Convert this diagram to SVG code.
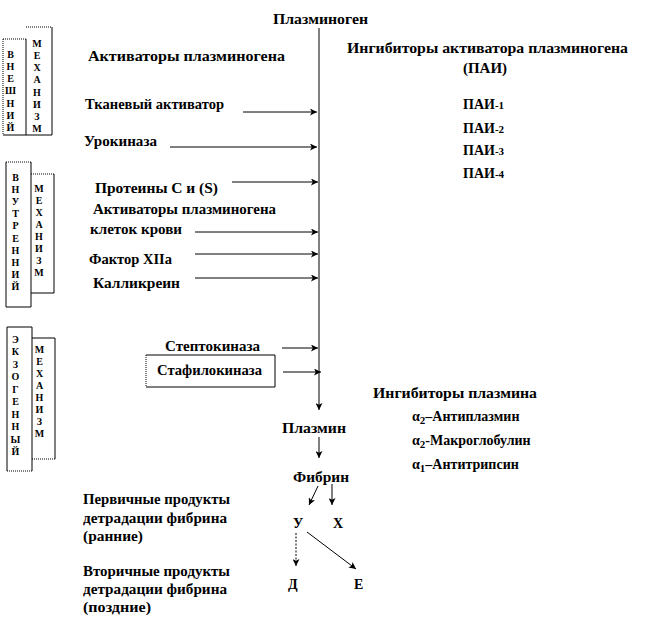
<svg xmlns="http://www.w3.org/2000/svg" width="668" height="630" viewBox="0 0 668 630">
<defs>
<style>
text{font-family:"Liberation Serif","DejaVu Serif","Times New Roman",serif;font-weight:bold;fill:#000}
.t{font-size:14px}
.s{font-size:11px}
.v{font-size:10px;text-anchor:middle}
.ln{stroke:#000;stroke-width:1;fill:none}
.dot{stroke:#000;stroke-width:1;fill:none;stroke-dasharray:1 1}
.ar{stroke:#000;stroke-width:1;fill:none;marker-end:url(#ah)}
</style>
<marker id="ah" viewBox="0 0 8 8" refX="8" refY="4" markerWidth="7" markerHeight="7" markerUnits="userSpaceOnUse" orient="auto">
<path d="M0,0 L8,4 L0,8 L2,4 z" fill="#000"/>
</marker>
</defs>
<rect width="668" height="630" fill="#fff"/>
<g font-family="Liberation Serif, DejaVu Serif, serif">

<g id="box-external">
<path class="ln" d="M3,135 H52 V27 M26,39 V135"/>
<path class="dot" d="M3,39 H26 M3,39 V135 M26,27 H52"/>
<text class="v"><tspan x="10.5" y="58">В</tspan><tspan x="10.5" y="70">Н</tspan><tspan x="10.5" y="82">Е</tspan><tspan x="10.5" y="94">Ш</tspan><tspan x="10.5" y="107">Н</tspan><tspan x="10.5" y="119">И</tspan><tspan x="10.5" y="131">Й</tspan></text>
<text class="v"><tspan x="37" y="47">М</tspan><tspan x="37" y="59">Е</tspan><tspan x="37" y="71">Х</tspan><tspan x="37" y="83">А</tspan><tspan x="37" y="96">Н</tspan><tspan x="37" y="108">И</tspan><tspan x="37" y="120">З</tspan><tspan x="37" y="132">М</tspan></text>
</g>

<g id="box-internal">
<path class="ln" d="M6,162 V307 H31 V162 M31,293 H54 V174"/>
<path class="dot" d="M6,162 H31 M31,174 H54"/>
<text class="v"><tspan x="15.5" y="181">В</tspan><tspan x="15.5" y="193">Н</tspan><tspan x="15.5" y="205">У</tspan><tspan x="15.5" y="217">Т</tspan><tspan x="15.5" y="229">Р</tspan><tspan x="15.5" y="242">Е</tspan><tspan x="15.5" y="254">Н</tspan><tspan x="15.5" y="266">Н</tspan><tspan x="15.5" y="278">И</tspan><tspan x="15.5" y="290">Й</tspan></text>
<text class="v"><tspan x="39" y="192">М</tspan><tspan x="39" y="204">Е</tspan><tspan x="39" y="216">Х</tspan><tspan x="39" y="228">А</tspan><tspan x="39" y="240">Н</tspan><tspan x="39" y="252">И</tspan><tspan x="39" y="264">З</tspan><tspan x="39" y="276">М</tspan></text>
</g>

<g id="box-exogenous">
<path class="ln" d="M7,471 V327 H32 V471 M32,338 H55 V459"/>
<path class="dot" d="M7,471 H32 M32,459 H55"/>
<text class="v"><tspan x="15.5" y="343">Э</tspan><tspan x="15.5" y="355">К</tspan><tspan x="15.5" y="368">З</tspan><tspan x="15.5" y="380">О</tspan><tspan x="15.5" y="393">Г</tspan><tspan x="15.5" y="405">Е</tspan><tspan x="15.5" y="418">Н</tspan><tspan x="15.5" y="430">Н</tspan><tspan x="15.5" y="443">Ы</tspan><tspan x="15.5" y="455">Й</tspan></text>
<text class="v"><tspan x="39.5" y="353">М</tspan><tspan x="39.5" y="365">Е</tspan><tspan x="39.5" y="377">Х</tspan><tspan x="39.5" y="389">А</tspan><tspan x="39.5" y="401">Н</tspan><tspan x="39.5" y="413">И</tspan><tspan x="39.5" y="425">З</tspan><tspan x="39.5" y="437">М</tspan></text>
</g>

<g id="plasminogen"><text class="t" x="273" y="24" textLength="95" lengthAdjust="spacingAndGlyphs">Плазминоген</text></g>
<g id="activators-title"><text class="t" x="88" y="61" textLength="197" lengthAdjust="spacingAndGlyphs">Активаторы  плазминогена</text></g>
<g id="tissue-activator"><text class="t" x="85" y="109" textLength="139" lengthAdjust="spacingAndGlyphs">Тканевый активатор</text></g>
<g id="urokinase"><text class="t" x="84" y="146" textLength="73" lengthAdjust="spacingAndGlyphs">Урокиназа</text></g>
<g id="proteins"><text class="t" x="95" y="193" textLength="123" lengthAdjust="spacingAndGlyphs">Протеины С и (S)</text></g>
<g id="blood-activators">
<text class="t" x="93" y="214" textLength="183" lengthAdjust="spacingAndGlyphs">Активаторы плазминогена</text>
<text class="t" x="90" y="234" textLength="92" lengthAdjust="spacingAndGlyphs">клеток крови</text>
</g>
<g id="factor-xiia"><text class="t" x="89" y="264" textLength="83" lengthAdjust="spacingAndGlyphs">Фактор XIIa</text></g>
<g id="kallikrein"><text class="t" x="93" y="288" textLength="87" lengthAdjust="spacingAndGlyphs">Калликреин</text></g>
<g id="streptokinase"><text class="t" x="165" y="351" textLength="95" lengthAdjust="spacingAndGlyphs">Стептокиназа</text></g>
<g id="staphylokinase">
<path class="ln" d="M146,355 H275 V387 H146"/>
<path class="dot" d="M146,355 V387"/>
<text class="t" x="157" y="375" textLength="105" lengthAdjust="spacingAndGlyphs">Стафилокиназа</text>
</g>

<g id="pai">
<text class="t" x="347" y="53" textLength="281" lengthAdjust="spacingAndGlyphs">Ингибиторы  активатора плазминогена</text>
<text class="t" x="463" y="73" textLength="44" lengthAdjust="spacingAndGlyphs">(ПАИ)</text>
<text class="t" x="463" y="109">ПАИ<tspan class="s">-1</tspan></text>
<text class="t" x="463" y="133">ПАИ<tspan class="s">-2</tspan></text>
<text class="t" x="463" y="155">ПАИ<tspan class="s">-3</tspan></text>
<text class="t" x="463" y="178">ПАИ<tspan class="s">-4</tspan></text>
</g>

<g id="plasmin-inhibitors">
<text class="t" x="373" y="398" textLength="164" lengthAdjust="spacingAndGlyphs">Ингибиторы  плазмина</text>
<text class="t" x="412" y="421">α<tspan class="s" dy="3">2</tspan><tspan dy="-3">–Антиплазмин</tspan></text>
<text class="t" x="412" y="445">α<tspan class="s" dy="3">2</tspan><tspan dy="-3">-Макроглобулин</tspan></text>
<text class="t" x="412" y="469">α<tspan class="s" dy="3">1</tspan><tspan dy="-3">–Антитрипсин</tspan></text>
</g>

<g id="plasmin"><text class="t" x="282" y="433" textLength="64" lengthAdjust="spacingAndGlyphs">Плазмин</text></g>
<g id="fibrin"><text class="t" x="293" y="482" textLength="56" lengthAdjust="spacingAndGlyphs">Фибрин</text></g>
<g id="y-node"><text class="t" x="293" y="528">У</text></g>
<g id="x-node"><text class="t" x="333" y="528">Х</text></g>
<g id="d-node"><text class="t" x="288" y="589">Д</text></g>
<g id="e-node"><text class="t" x="354" y="589">Е</text></g>

<g id="primary-products">
<text class="t" x="83" y="504" textLength="147" lengthAdjust="spacingAndGlyphs">Первичные продукты</text>
<text class="t" x="83" y="523" textLength="144" lengthAdjust="spacingAndGlyphs">детрадации фибрина</text>
<text class="t" x="83" y="541" textLength="60" lengthAdjust="spacingAndGlyphs">(ранние)</text>
</g>
<g id="secondary-products">
<text class="t" x="83" y="576" textLength="147" lengthAdjust="spacingAndGlyphs">Вторичные продукты</text>
<text class="t" x="83" y="594" textLength="144" lengthAdjust="spacingAndGlyphs">детрадации фибрина</text>
<text class="t" x="83" y="612" textLength="68" lengthAdjust="spacingAndGlyphs">(поздние)</text>
</g>

<g id="connectors">
<path class="ar" d="M319,28 V410"/>
<path class="ar" d="M243,112 H317"/>
<path class="ar" d="M170,147 H317"/>
<path class="ar" d="M232,182 H318"/>
<path class="ar" d="M195,232 H318"/>
<path class="ar" d="M195,254 H318"/>
<path class="ar" d="M195,278 H318"/>
<path class="ar" d="M282,348 H318"/>
<path class="ar" d="M283,372 H321"/>
<path class="ar" d="M319,437 V458"/>
<path class="ar" d="M318,486 L309,505"/>
<path class="ar" d="M332,484 V505"/>
<path class="ar" d="M296,533 V566" stroke-dasharray="2 1.5"/>
<path class="ar" d="M307,532 L356,569"/>
</g>
</g>
</svg>
